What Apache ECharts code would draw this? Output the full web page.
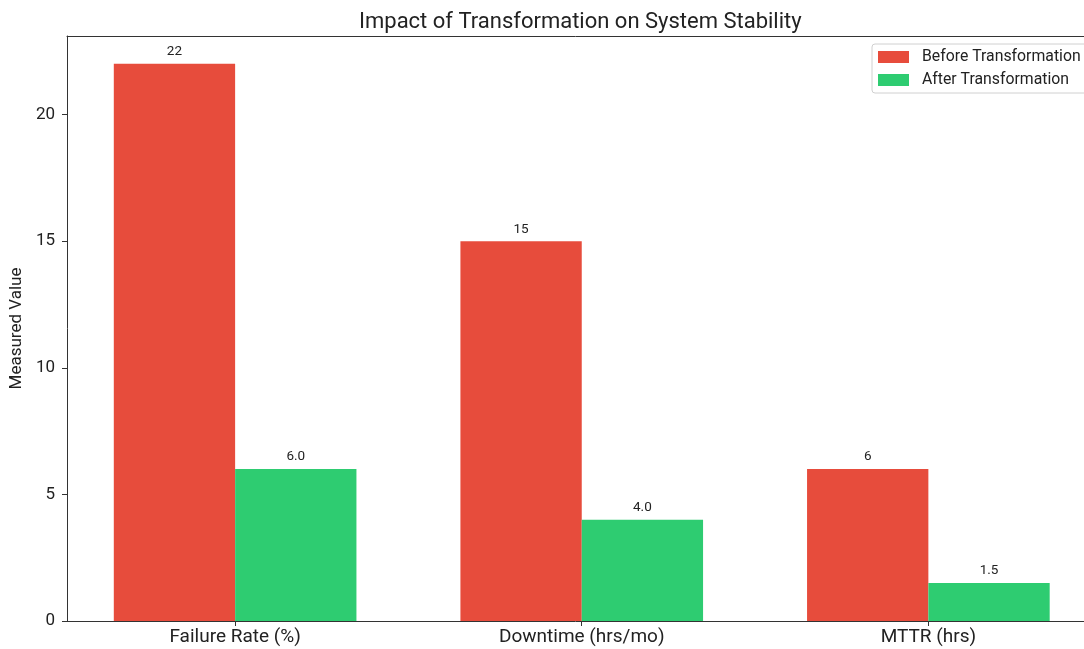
<!DOCTYPE html>
<html>
<head>
<meta charset="utf-8">
<script src="https://cdn.jsdelivr.net/npm/echarts@6/dist/echarts.min.js"></script>
<style>
  html, body { margin: 0; padding: 0; background: #fff; }
  #chart { width: 1084px; height: 649px; }
</style>
</head>
<body>
<div id="chart"></div>
<script>
// Metrics compared before and after the transformation
const categories = ['Failure Rate (%)', 'Downtime (hrs/mo)', 'MTTR (hrs)'];
const beforeValues = [22, 15, 6];
const afterValues = [6.0, 4.0, 1.5];
const yTicks = [0, 5, 10, 15, 20];
const seriesNames = ['Before Transformation', 'After Transformation'];

const FONT = 'Roboto, "Open Sans", sans-serif';
const AXIS_COLOR = '#333';
const BAR_W = 0.35;                      // bar width in category units
const positions = categories.map((_, i) => i);
// horizontal range: bars plus a 5% margin on the left; the right side runs to the page edge
const xMin = -0.485;
const xMax = 2.449;
const yMax = 23.1;

function fmtBefore(v) { return String(Math.round(v)); }
function fmtAfter(v) { return v.toFixed(1); }

function barSeries(name, values, side, color, fmt) {
  return {
    type: 'custom',
    name: name,
    data: values.map((v, i) => [positions[i], v]),
    encode: { x: 0, y: 1 },
    itemStyle: { color: color },
    clip: false,
    renderItem: function (params, api) {
      const x = api.value(0);
      const v = api.value(1);
      const x0 = side < 0 ? x - BAR_W : x;
      const p0 = api.coord([x0, v]);
      const p1 = api.coord([x0 + BAR_W, 0]);
      return {
        type: 'rect',
        shape: { x: p0[0], y: p0[1], width: p1[0] - p0[0], height: p1[1] - p0[1] },
        style: { fill: color },
        textContent: {
          style: {
            text: fmt(v),
            fill: '#222',
            font: '13.5px ' + FONT
          }
        },
        textConfig: { position: 'top', distance: 5 }
      };
    }
  };
}

const chart = echarts.init(document.getElementById('chart'), null, { renderer: 'canvas' });
chart.setOption({
  backgroundColor: '#fff',
  animation: false,
  textStyle: { fontFamily: FONT },
  title: {
    text: 'Impact of Transformation on System Stability',
    left: 354, top: 6,
    textStyle: { fontSize: 22, fontWeight: 'normal', color: '#222', fontFamily: FONT }
  },
  legend: {
    orient: 'vertical',
    left: 872, top: 44,
    itemWidth: 31, itemHeight: 12, itemGap: 7,
    padding: [5, 8, 5, 6],
    borderColor: '#d0d0d0', borderWidth: 1, borderRadius: 3,
    backgroundColor: '#fff',
    icon: 'rect',
    textStyle: { fontSize: 15.8, lineHeight: 16, color: '#222', fontFamily: FONT, padding: [0, 0, 0, 8] },
    data: seriesNames
  },
  grid: { left: 65, top: 36, right: 0, height: 585, show: false },
  xAxis: [{
    type: 'value',
    min: xMin, max: xMax,
    splitLine: { show: false },
    axisLine: { show: true, onZero: false, lineStyle: { color: AXIS_COLOR } },
    axisTick: { show: true, customValues: positions, length: 5, lineStyle: { color: AXIS_COLOR } },
    axisLabel: {
      customValues: positions,
      formatter: v => categories[Math.round(v)],
      fontSize: 19, color: '#222', margin: 7, fontFamily: FONT
    }
  }, {
    // top spine
    type: 'value', position: 'top',
    min: xMin, max: xMax,
    splitLine: { show: false },
    axisLine: { show: true, onZero: false, lineStyle: { color: AXIS_COLOR } },
    axisTick: { show: false },
    axisLabel: { show: false }
  }],
  yAxis: {
    type: 'value',
    min: 0, max: yMax,
    name: 'Measured Value',
    nameLocation: 'middle',
    nameGap: 38,
    nameTextStyle: { fontSize: 17, color: '#222', fontFamily: FONT },
    splitLine: { show: false },
    axisLine: { show: true, onZero: false, lineStyle: { color: AXIS_COLOR } },
    axisTick: { show: true, customValues: yTicks, length: 5, lineStyle: { color: AXIS_COLOR } },
    axisLabel: { customValues: yTicks, fontSize: 17, color: '#222', margin: 12, fontFamily: FONT }
  },
  series: [
    barSeries(seriesNames[0], beforeValues, -1, '#E74C3C', fmtBefore),
    barSeries(seriesNames[1], afterValues, 1, '#2ECC71', fmtAfter)
  ]
});
</script>
</body>
</html>
